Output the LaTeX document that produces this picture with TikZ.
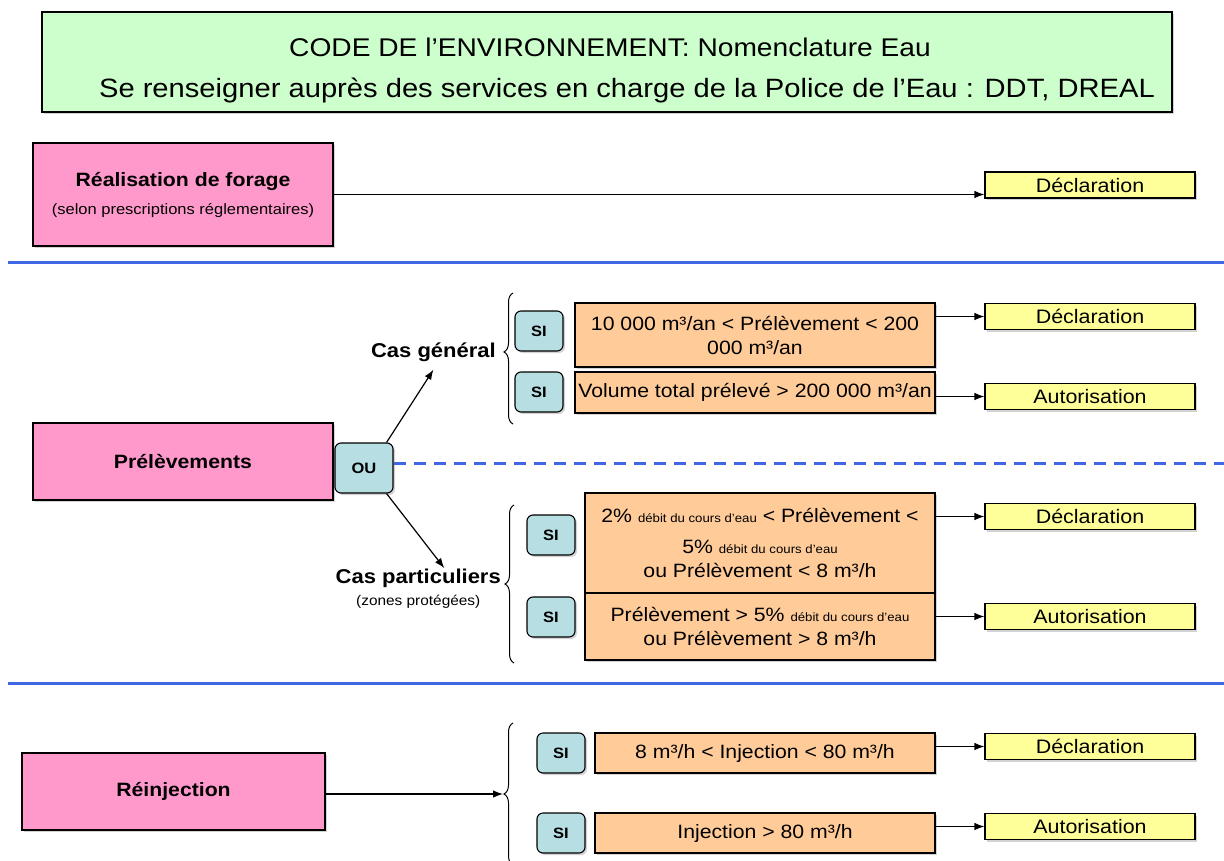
\documentclass[tikz,border=0pt]{standalone}
\usepackage{fontspec}
\setmainfont{Liberation Sans}[FakeStretch=1.1]
\usetikzlibrary{arrows.meta,shadows,decorations.pathreplacing}
\definecolor{vert}{RGB}{204,255,204}
\definecolor{rose}{RGB}{255,153,204}
\definecolor{saumon}{RGB}{255,204,153}
\definecolor{jaune}{RGB}{255,255,153}
\definecolor{bleuclair}{RGB}{183,222,226}
\definecolor{bleu}{RGB}{64,104,228}
\newcommand{\sz}[2]{\fontsize{#1}{#2}\selectfont}
\begin{document}
\begin{tikzpicture}[x=1pt,y=-1pt,
  ombre/.style={drop shadow={shadow xshift=2pt,shadow yshift=-2pt,opacity=.35}},
  titre/.style={draw,line width=1.6pt,fill=vert,minimum width=1130pt,minimum height=100pt,ombre},
  theme/.style={draw,line width=1.3pt,fill=rose,minimum width=300pt,align=center,font=\sz{19.3}{23}\bfseries,ombre},
  si/.style={draw,line width=1.1pt,fill=bleuclair,rounded corners=6pt,minimum width=48pt,minimum height=40pt,font=\sz{15}{17}\bfseries,ombre},
  cond/.style={draw,line width=1.1pt,fill=saumon,align=center,inner sep=0pt,font=\sz{19.3}{24},ombre},
  res/.style={draw,line width=1.1pt,fill=jaune,minimum width=210pt,minimum height=26pt,inner sep=0pt,font=\sz{19.5}{21},ombre},
  cas/.style={anchor=east,inner sep=1pt,align=center,font=\sz{20}{22}\bfseries},
  fl/.style={-{Latex[length=10pt,width=7.5pt]},line width=1.2pt},
  acc/.style={decorate,decoration={brace,amplitude=9pt},line width=1pt},
  sep/.style={bleu,line width=3pt}]
\useasboundingbox (0,0) rectangle (1224,860);

% en-tete
\node[titre] (code) at (607,62) {};
\node[font=\sz{25.6}{28}] (code1) at (610,47) {CODE DE l’ENVIRONNEMENT: Nomenclature Eau};
\node[font=\sz{26.5}{28}] (code2) at (627,90) {Se renseigner auprès des services en charge de la Police de l’Eau : DDT, DREAL};

% forage
\node[theme,minimum height=103pt] (forage) at (183,194.5) {Réalisation de forage\\[5pt]{\sz{15}{17}\mdseries (selon prescriptions réglementaires)}};
\node[res] (decl0) at (1090,185) {Déclaration};
\draw[fl] (forage.east) -- (forage.east -| decl0.west);
\draw[sep] (8,262) -- (1224,262);

% prelevements
\node[theme,minimum height=77pt] (prel) at (183,461.5) {Prélèvements};
\node[si,minimum width=58pt,minimum height=50pt] (ou) at (364,468) {OU};
\coordinate (bord) at (1224,463);
\draw[sep,dash pattern=on 12pt off 8pt] (ou.east |- bord) -- (bord);
\node[cas] (casg) at (497,352) {Cas général};
\node[cas] (casp) at (502,589) {Cas particuliers\\{\sz{14}{16}\mdseries (zones protégées)}};
\draw[fl] ([xshift=-7pt]ou.north east) -- ([yshift=-7pt]casg.south);
\draw[fl] ([xshift=-7pt]ou.south east) -- ([xshift=26pt]casp.north);

% cas general
\draw[acc,decoration={aspect=.55}] (513,424) -- (513,293);
\node[si] (si1) at (539,331) {SI};
\node[si] (si2) at (539,392) {SI};
\node[cond,minimum width=360pt,minimum height=64pt] (c1) at (755,335) {10 000 m³/an < Prélèvement < 200\\000 m³/an};
\node[cond,minimum width=360pt,minimum height=41pt] (c2) at (755,392.5) {Volume total prélevé > 200 000 m³/an};
\node[res] (decl1) at (1090,316.5) {Déclaration};
\node[res] (auto1) at (1090,396.5) {Autorisation};
\draw[fl] (c1.east |- decl1.west) -- (decl1.west);
\draw[fl] (c2.east |- auto1.west) -- (auto1.west);

% cas particuliers
\draw[acc] (514,663) -- (514,505);
\node[si] (si3) at (551,535) {SI};
\node[si] (si4) at (551,617) {SI};
\node[cond,minimum width=350pt,minimum height=100pt] (c3) at (760,543) {2\% {\sz{12}{14}débit du cours d'eau} < Prélèvement <\\[7pt]5\% {\sz{12}{14}débit du cours d'eau}\\ou Prélèvement < 8 m³/h};
\node[cond,minimum width=350pt,minimum height=67pt] (c4) at (760,626.5) {Prélèvement > 5\% {\sz{12}{14}débit du cours d'eau}\\ou Prélèvement > 8 m³/h};
\node[res] (decl2) at (1090,516.5) {Déclaration};
\node[res] (auto2) at (1090,616.5) {Autorisation};
\draw[fl] (c3.east |- decl2.west) -- (decl2.west);
\draw[fl] (c4.east |- auto2.west) -- (auto2.west);
\draw[sep] (8,683) -- (1224,683);

% reinjection
\node[theme,minimum width=303pt,minimum height=77pt] (reinj) at (173.5,791.5) {Réinjection};
\coordinate (pointe) at (503,794);
\draw[fl] (reinj.east |- pointe) -- (pointe);
\draw[acc] (513,865) -- (513,723);
\node[si] (si5) at (561,753) {SI};
\node[si] (si6) at (561,833) {SI};
\node[cond,minimum width=340pt,minimum height=40pt] (c5) at (765,753) {8 m³/h < Injection < 80 m³/h};
\node[cond,minimum width=340pt,minimum height=40pt] (c6) at (765,833) {Injection > 80 m³/h};
\node[res] (decl3) at (1090,746.5) {Déclaration};
\node[res] (auto3) at (1090,826.5) {Autorisation};
\draw[fl] (c5.east |- decl3.west) -- (decl3.west);
\draw[fl] (c6.east |- auto3.west) -- (auto3.west);
\end{tikzpicture}
\end{document}
